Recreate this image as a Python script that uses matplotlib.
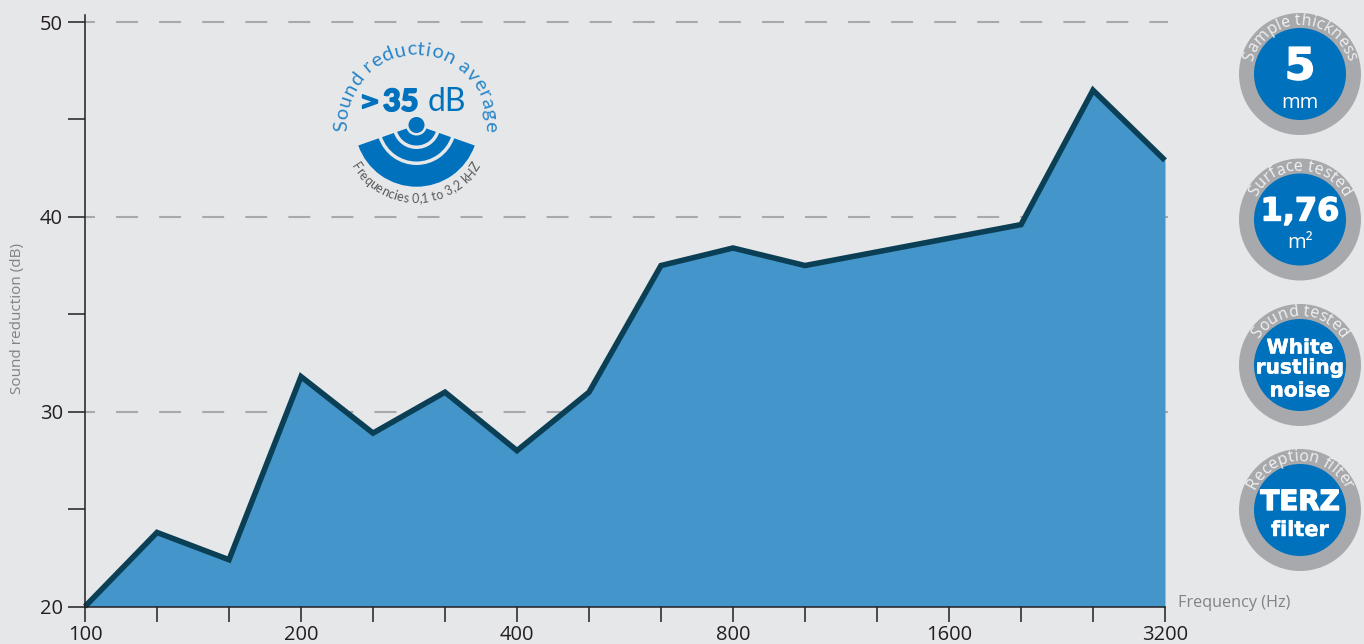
import math
import matplotlib
matplotlib.use('Agg')
import matplotlib.pyplot as plt
from matplotlib.patches import Circle, Wedge
from matplotlib import font_manager as fm
from matplotlib import patheffects as pe
from matplotlib.ft2font import LoadFlags

plt.rcParams['font.family'] = ['Open Sans', 'DejaVu Sans']
plt.rcParams['lines.scale_dashes'] = False

# values, one per third of an octave
positions = list(range(16))
reduction = [20.0, 23.8, 22.4, 31.8, 28.9, 31.0, 28.0, 31.0,
             37.5, 38.4, 37.5, 38.2, 38.9, 39.6, 46.5, 42.9]
x_ticks = list(range(16))
x_labels = ['100', '', '', '200', '', '', '400', '', '', '800', '', '', '1600', '', '', '3200']
y_ticks = [20, 25, 30, 35, 40, 45, 50]
y_labels = ['20', '', '30', '', '40', '', '50']
grid_levels = [30, 40, 50]

badge_titles = ['Sample thickness', 'Surface tested', 'Sound tested', 'Reception filter']
badge_y = [74, 219.5, 365, 510]

BG = '#e6e7e9'
FILL = '#4495c9'
LINE = '#0b3f55'
DARK = '#231f20'
GREY = '#a7a9ac'
BLUE = '#0071bc'
W, H = 1364, 644

fig = plt.figure(figsize=(W / 100, H / 100), dpi=100, facecolor=BG)

# chart axes, placed so that 20 dB sits at y=606.5 and 50 dB at y=22
left, right, bottom = 85, 1165, 606.5
top = 15
ax = fig.add_axes([left / W, 1 - bottom / H, (right - left) / W, (bottom - top) / H])
ax.set_facecolor('none')
ax.set_xlim(0, 15)
ax.set_ylim(20, 50 + 7 / 19.48)

for lev in grid_levels:
    ax.plot([0, 15.04], [lev, lev], color=GREY, lw=1.5, clip_on=False, zorder=1,
            linestyle=(8.6, (15.8, 15.2)))

ax.fill_between(positions, 20, reduction, color=FILL, lw=0, zorder=2)
ax.plot(positions, reduction, color=LINE, lw=4.0, clip_on=False, zorder=3,
        solid_joinstyle='miter', solid_capstyle='butt')

ax.set_xticks(x_ticks, x_labels)
ax.set_yticks(y_ticks, y_labels)
ax.tick_params(axis='x', length=10.5, width=1.1, color=DARK, labelcolor=DARK, labelsize=14.5, pad=2.5)
ax.tick_params(axis='y', length=12, width=1.1, color=DARK, labelcolor=DARK, labelsize=14.5, pad=4)
for s in ['top', 'right']:
    ax.spines[s].set_visible(False)
for s in ['left', 'bottom']:
    ax.spines[s].set_color(DARK)
    ax.spines[s].set_linewidth(1.1)
    ax.spines[s].set_zorder(4)

# overlay in pixel coordinates for the labels, the icon and the badges
ov = fig.add_axes([0, 0, 1, 1])
ov.set_xlim(0, W)
ov.set_ylim(H, 0)
ov.axis('off')


def advances(s, fp):
    font = fm.get_font(fm.findfont(fp))
    font.set_size(fp.get_size_in_points(), 100)
    return [font.load_char(ord(c), flags=LoadFlags.NO_HINTING).linearHoriAdvance / 65536 for c in s]


def arc_text(s, cx, cy, r, size, color, family='Open Sans', weight='normal', track=0, below=False):
    fp = fm.FontProperties(family=family, weight=weight, size=size)
    adv = [a + track for a in advances(s, fp)]
    pos = -sum(adv) / 2
    for c, a in zip(s, adv):
        th = (pos + a / 2) / r
        if below:
            x, y, rot = cx + r * math.sin(th), cy + r * math.cos(th), math.degrees(th)
        else:
            x, y, rot = cx + r * math.sin(th), cy - r * math.cos(th), -math.degrees(th)
        ov.text(x, y, c, fontproperties=fp, color=color, rotation=rot,
                rotation_mode='anchor', ha='center', va='baseline', zorder=8)
        pos += a


ov.text(18, 318, 'Sound reduction (dB)', rotation=90, color='#808285', fontsize=11, ha='center', va='center')
ov.text(1178, 603, 'Frequency (Hz)', color='#808285', fontsize=11.7, ha='left', va='center')

# sound reduction icon
cx, cy = 416.5, 125
ov.add_patch(Circle((416.5, 125), 8, color=BLUE, lw=0))
for r_out, r_in in [(61.7, 40), (36.5, 24), (20.5, 10.5)]:
    ov.add_patch(Wedge((cx, cy), r_out, 19.4, 160.6, width=r_out - r_in, color=BLUE, lw=0))
arc_text('Sound reduction average', 416, 124, 69, 14.5, '#2a86c8', family='Lato', track=0.5)
arc_text('Frequencies 0,1 to 3,2 kHZ', 416, 127, 76, 9, '#58595b', family='Lato', track=0.3, below=True)
heavy = [pe.withStroke(linewidth=1.2, foreground=BLUE)]
ov.text(380, 102, '>', color=BLUE, fontsize=17, family='DejaVu Sans', weight='bold', ha='right', va='center', path_effects=heavy)
ov.text(383, 102, '35', color=BLUE, fontsize=22, family='Lato', weight='black', ha='left', va='center', path_effects=heavy)
ov.text(428, 102, 'dB', color=BLUE, fontsize=23, family='Lato', ha='left', va='center')

# badges on the right
for title, by in zip(badge_titles, badge_y):
    ov.add_patch(Circle((1300, by), 61, color=GREY, lw=0))
    ov.add_patch(Circle((1300, by), 46, color=BLUE, lw=0))
    arc_text(title, 1300, by, 49, 11.5, '#f2f2f2', track=0)

thick = [pe.withStroke(linewidth=1.0, foreground='white')]
thin = [pe.withStroke(linewidth=0.35, foreground='white')]
bold = dict(color='white', family='DejaVu Sans', weight='bold', ha='center', va='center')
ov.text(1300, 67, '5', fontsize=32, path_effects=thick, **bold)
ov.text(1300, 103, 'mm', color='white', fontsize=14.5, ha='center', va='center')
ov.text(1300, 212, '1,76', fontsize=23, path_effects=thick, **bold)
ov.text(1300, 243, 'm²', color='white', fontsize=14.5, ha='center', va='center')
ov.text(1300, 348, 'White', fontsize=14.5, path_effects=thin, **bold)
ov.text(1300, 368, 'rustling', fontsize=14.5, path_effects=thin, **bold)
ov.text(1300, 391, 'noise', fontsize=14.5, path_effects=thin, **bold)
ov.text(1300, 502, 'TERZ', fontsize=20, path_effects=thick, **bold)
ov.text(1300, 530, 'filter', fontsize=15, path_effects=thin, **bold)

fig.savefig('out.png', dpi=100, facecolor=BG)
